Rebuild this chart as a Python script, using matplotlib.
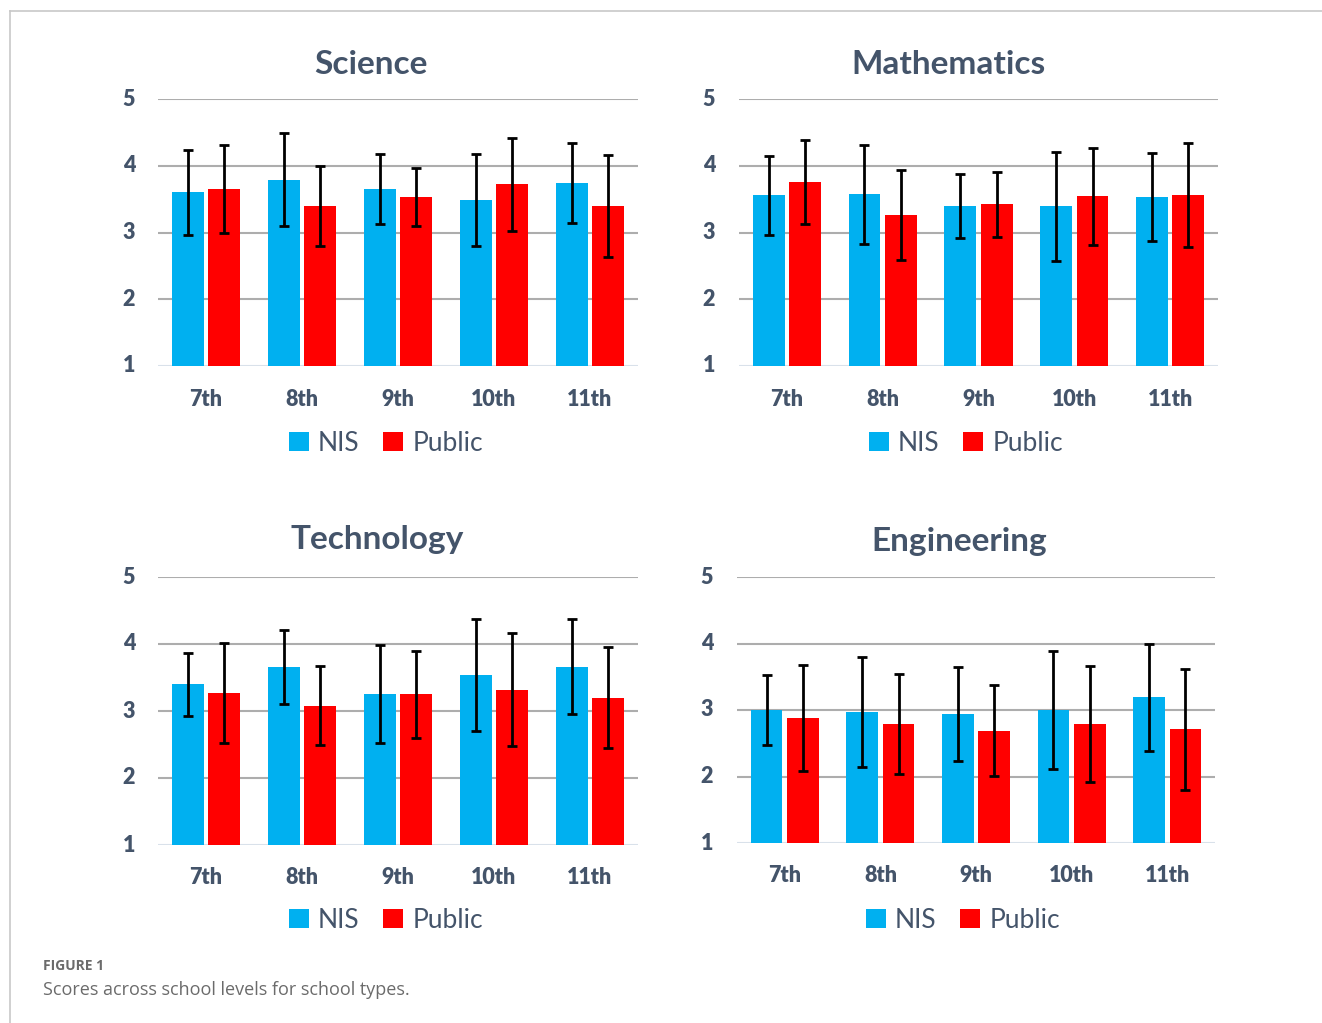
import matplotlib.pyplot as plt
import matplotlib.lines as mlines
import numpy as np

# figure size in pixels (dpi 100)
W, H = 1322, 1023

levels = ['7th', '8th', '9th', '10th', '11th']
subjects = ['Science', 'Mathematics', 'Technology', 'Engineering']

# mean scores
nis_mean = {
    'Science':     [3.60, 3.79, 3.65, 3.49, 3.74],
    'Mathematics': [3.56, 3.57, 3.40, 3.39, 3.53],
    'Technology':  [3.40, 3.66, 3.25, 3.54, 3.66],
    'Engineering': [3.00, 2.97, 2.94, 3.00, 3.19],
}
public_mean = {
    'Science':     [3.65, 3.40, 3.53, 3.72, 3.40],
    'Mathematics': [3.75, 3.26, 3.42, 3.54, 3.56],
    'Technology':  [3.27, 3.08, 3.25, 3.32, 3.20],
    'Engineering': [2.88, 2.79, 2.69, 2.79, 2.71],
}
# standard deviations (error bar half-lengths)
nis_sd = {
    'Science':     [0.63, 0.70, 0.53, 0.69, 0.60],
    'Mathematics': [0.59, 0.74, 0.48, 0.81, 0.66],
    'Technology':  [0.47, 0.55, 0.73, 0.84, 0.71],
    'Engineering': [0.53, 0.83, 0.71, 0.89, 0.80],
}
public_sd = {
    'Science':     [0.66, 0.60, 0.44, 0.70, 0.76],
    'Mathematics': [0.63, 0.67, 0.48, 0.73, 0.78],
    'Technology':  [0.75, 0.59, 0.65, 0.84, 0.75],
    'Engineering': [0.79, 0.75, 0.68, 0.87, 0.91],
}

NIS_COLOR = '#00B0F0'
PUB_COLOR = '#FF0000'
TXT = '#44546A'
GRID = '#ADADAD'

plt.rcParams['font.family'] = ['Lato', 'DejaVu Sans']


def fx(x):
    return x / W


def fy(y):
    return 1 - y / H


# panel geometry in pixels: left, right, y of value 5, y of value 1,
# title centre, ytick x, xtick y, legend centre
panels = {
    'Science':     dict(l=158, r=638, top=99, bot=366, tx=371, ty=64, yl=129, xl=400, lx=386, ly=443),
    'Mathematics': dict(l=739, r=1218, top=99, bot=366, tx=949, ty=64, yl=709, xl=400, lx=966, ly=443),
    'Technology':  dict(l=158, r=638, top=577, bot=845, tx=377, ty=539, yl=129, xl=877, lx=386, ly=920),
    'Engineering': dict(l=737, r=1215, top=577, bot=843, tx=959, ty=542, yl=707, xl=876, lx=963, ly=920),
}

fig = plt.figure(figsize=(W / 100, H / 100), dpi=100)

x = np.arange(len(levels))
bw = 0.33
off = 0.19

for subj in subjects:
    p = panels[subj]
    ax = fig.add_axes([fx(p['l']), fy(p['bot']), fx(p['r'] - p['l']), (p['bot'] - p['top']) / H])
    ax.set_xlim(-0.5, len(levels) - 0.5)
    ax.set_ylim(1, 5)

    for v in [2, 3, 4, 5]:
        ax.axhline(v, color=GRID, lw=1.5, zorder=0)
    ax.axhline(1, color='#D9E1EA', lw=1.5, zorder=0)

    ekw = dict(ecolor='black', elinewidth=2.0, capsize=3.6, capthick=2.0)
    b1 = ax.bar(x - off, np.array(nis_mean[subj]) - 1, bw, bottom=1, color=NIS_COLOR,
                yerr=nis_sd[subj], error_kw=ekw, zorder=2, label='NIS')
    b2 = ax.bar(x + off, np.array(public_mean[subj]) - 1, bw, bottom=1, color=PUB_COLOR,
                yerr=public_sd[subj], error_kw=ekw, zorder=2, label='Public')

    for s in ax.spines.values():
        s.set_visible(False)
    ax.set_xticks([])
    ax.set_yticks([])

    # tick labels
    for i, lev in enumerate(levels):
        xc = p['l'] + (p['r'] - p['l']) * (i + 0.5) / len(levels)
        fig.text(fx(xc), fy(p['xl']), lev, ha='center', va='center',
                 fontsize=15.5, fontweight='heavy', color=TXT)
    for v in [1, 2, 3, 4, 5]:
        yc = p['bot'] - (p['bot'] - p['top']) * (v - 1) / 4
        fig.text(fx(p['yl']), fy(yc), str(v), ha='center', va='center',
                 fontsize=15.5, fontweight='heavy', color=TXT)

    fig.text(fx(p['tx']), fy(p['ty']), subj, ha='center', va='center',
             fontsize=24, fontweight='bold', color=TXT)

    fig.legend(handles=[b1, b2], labels=['NIS', 'Public'], loc='center',
               bbox_to_anchor=(fx(p['lx']), fy(p['ly'])), ncol=2, frameon=False,
               fontsize=19, labelcolor=TXT, handlelength=0.75, handleheight=0.75,
               handletextpad=0.35, columnspacing=0.9, borderpad=0)

# page border (top and left edges)
fig.add_artist(mlines.Line2D([fx(10), 1], [fy(11), fy(11)], color='#C8C8C8', lw=1.2))
fig.add_artist(mlines.Line2D([fx(10), fx(10)], [fy(11), 0], color='#C8C8C8', lw=1.2))

# caption
fig.text(fx(43), fy(966), 'FIGURE 1', ha='left', va='center', fontsize=10,
         fontweight='bold', color='#6B6B6B', family=['Open Sans', 'DejaVu Sans'])
fig.text(fx(43), fy(990), 'Scores across school levels for school types.', ha='left',
         va='center', fontsize=13, color='#6B6B6B', family=['Open Sans', 'DejaVu Sans'])

fig.savefig('out.png', dpi=100)
